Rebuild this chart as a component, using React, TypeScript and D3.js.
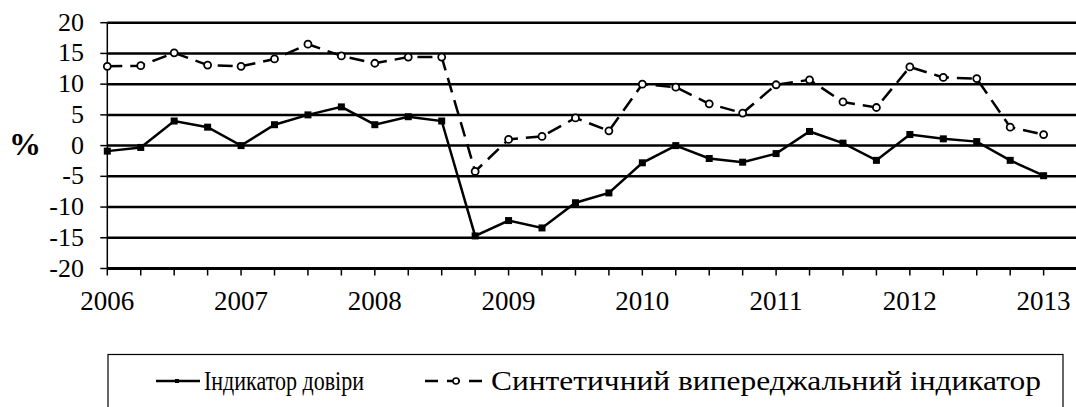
import * as d3 from 'd3';

const quarters = d3.range(29);
const yearLabels = ['2006', '2007', '2008', '2009', '2010', '2011', '2012', '2013'];
const yTicks = [-20, -15, -10, -5, 0, 5, 10, 15, 20];

const confidence = [
  -0.9, -0.3, 4.0, 3.0, 0.0, 3.4, 5.0, 6.3, 3.4, 4.7, 4.0,
  -14.7, -12.2, -13.4, -9.3, -7.7, -2.8, 0.0, -2.1, -2.7, -1.3,
  2.3, 0.4, -2.4, 1.8, 1.1, 0.65, -2.4, -4.9,
];
const leading = [
  12.9, 13.0, 15.1, 13.1, 12.9, 14.1, 16.5, 14.6, 13.4, 14.4, 14.4,
  -4.2, 1.0, 1.5, 4.5, 2.4, 10.0, 9.5, 6.8, 5.3, 9.9,
  10.7, 7.1, 6.2, 12.8, 11.1, 10.9, 3.0, 1.8,
];
const seriesNames = ['Індикатор довіри', 'Синтетичний випереджальний індикатор'];

const W = 1076;
const H = 407;

export default function App() {
  const x = d3.scaleLinear().domain([0, 29]).range([107.3, 107.3 + 29 * 33.44]);
  const y = d3.scaleLinear().domain([-20, 20]).range([268.5, 22.7]);
  const line = d3
    .line<number>()
    .x((_, i) => x(i))
    .y((d) => y(d));

  return (
    <div style={{ position: 'absolute', left: 0, top: 0, width: W, height: H, fontFamily: 'Liberation Serif' }}>
      <svg width={W} height={H}>
        <rect width={W} height={H} fill="#fff" />
        {yTicks.map((t) => (
          <line key={t} x1={x(0)} x2={W} y1={y(t)} y2={y(t)} stroke="#000" strokeWidth={t === -20 ? 3 : 2.5} />
        ))}
        <line x1={x(0)} x2={x(0)} y1={y(20)} y2={y(-20)} stroke="#000" strokeWidth={1.5} />
        {yTicks.map((t) => (
          <line key={'yt' + t} x1={x(0) - 7} x2={x(0)} y1={y(t)} y2={y(t)} stroke="#000" strokeWidth={1.5} />
        ))}
        {yTicks.map((t) => (
          <text key={'yl' + t} x={84} y={y(t) + 8} textAnchor="end" fontSize={26} style={{ fontFamily: 'Liberation Serif' }}>
            {'' + t}
          </text>
        ))}
        <text x={9} y={155} fontSize={32} fontWeight="bold" style={{ fontFamily: 'Liberation Serif' }}>%</text>
        {d3.range(30).map((i) => (
          <line key={'xt' + i} x1={x(i)} x2={x(i)} y1={y(-20)} y2={y(-20) + 7} stroke="#000" strokeWidth={1.5} />
        ))}
        {yearLabels.map((lbl, k) => (
          <text key={lbl} x={x(k * 4)} y={310} textAnchor="middle" fontSize={27} style={{ fontFamily: 'Liberation Serif' }}>
            {lbl}
          </text>
        ))}
        <path d={line(confidence) ?? ''} fill="none" stroke="#000" strokeWidth={2.5} />
        {quarters.map((i) => (
          <rect key={'s' + i} x={x(i) - 3.5} y={y(confidence[i]) - 3.5} width={7} height={7} fill="#000" />
        ))}
        <path d={line(leading) ?? ''} fill="none" stroke="#000" strokeWidth={2.5} strokeDasharray="15,8" />
        {quarters.map((i) => (
          <circle key={'c' + i} cx={x(i)} cy={y(leading[i])} r={3.5} fill="#fff" stroke="#000" strokeWidth={1.8} />
        ))}
        <rect x={108} y={354.5} width={955} height={70} fill="none" stroke="#000" strokeWidth={1.2} />
        <line x1={156} x2={200} y1={381} y2={381} stroke="#000" strokeWidth={2.5} />
        <rect x={175} y={379} width={4} height={4} fill="#000" />
        <text x={204} y={390} fontSize={27} textLength={160} lengthAdjust="spacingAndGlyphs" style={{ fontFamily: 'Liberation Serif' }}>
          {seriesNames[0]}
        </text>
        <line x1={425} x2={488} y1={381} y2={381} stroke="#000" strokeWidth={2.5} strokeDasharray="13,9" />
        <circle cx={456} cy={381} r={3} fill="#fff" stroke="#000" strokeWidth={1.5} />
        <text x={491} y={390} fontSize={27} textLength={550} lengthAdjust="spacingAndGlyphs" style={{ fontFamily: 'Liberation Serif' }}>
          {seriesNames[1]}
        </text>
      </svg>
    </div>
  );
}
